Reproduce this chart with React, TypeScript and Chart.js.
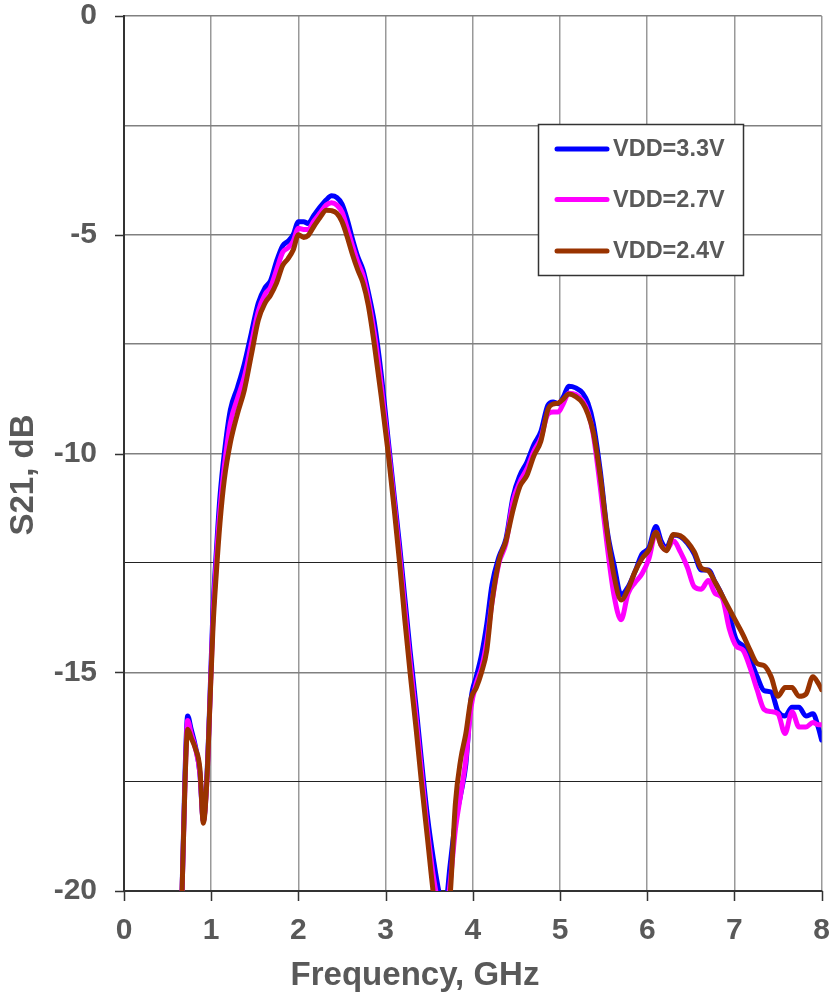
import React, { useEffect, useRef } from 'react';
import { Chart, registerables } from 'chart.js';

Chart.register(...registerables);

// Frequency grid (GHz)
const freqGHz = [
  0.66, 0.70, 0.73, 0.77, 0.82, 0.87, 0.91, 0.95, 0.98, 1.02,
  1.06, 1.10, 1.15, 1.22, 1.30, 1.38, 1.46, 1.54, 1.62, 1.68,
  1.75, 1.82, 1.88, 1.94, 2.00, 2.06, 2.11, 2.18, 2.25, 2.32,
  2.38, 2.44, 2.50, 2.56, 2.62, 2.68, 2.74, 2.80, 2.87, 2.95,
  3.03, 3.10, 3.16, 3.22, 3.28, 3.35, 3.41, 3.48, 3.55, 3.62,
  3.68, 3.74, 3.80, 3.86, 3.92, 3.98, 4.04, 4.10, 4.16, 4.22,
  4.30, 4.38, 4.46, 4.54, 4.62, 4.70, 4.78, 4.86, 4.92, 4.98,
  5.04, 5.10, 5.18, 5.26, 5.32, 5.38, 5.46, 5.54, 5.62, 5.70,
  5.78, 5.86, 5.94, 6.02, 6.10, 6.16, 6.22, 6.30, 6.38, 6.46,
  6.54, 6.62, 6.70, 6.78, 6.86, 6.94, 7.02, 7.10, 7.18, 7.26,
  7.34, 7.42, 7.50, 7.58, 7.66, 7.74, 7.82, 7.90, 7.96, 8.00,
];

// S21 (dB), VDD = 3.3 V
const s21Vdd33 = [
  -20.5, -17.3, -16.0, -16.3, -16.7, -17.3, -18.4, -17.4, -15.9, -13.6,
  -12.2, -11.0, -10.0, -9.0, -8.5, -7.95, -7.25, -6.56, -6.2, -6.05,
  -5.6, -5.25, -5.15, -5.0, -4.7, -4.7, -4.74, -4.55, -4.36, -4.2,
  -4.11, -4.15, -4.3, -4.65, -5.1, -5.5, -5.8, -6.3, -7.0, -8.2,
  -9.7, -11.0, -12.1, -13.3, -14.5, -15.8, -17.0, -18.3, -19.3, -20.1,
  -20.4, -19.4, -18.4, -17.8, -17.1, -15.6, -15.1, -14.6, -13.9, -13.0,
  -12.36, -11.95, -11.0, -10.5, -10.2, -9.8, -9.5, -8.9, -8.82, -8.86,
  -8.7, -8.46, -8.5, -8.62, -8.85, -9.3, -10.38, -11.75, -12.55, -13.23,
  -13.05, -12.7, -12.3, -12.15, -11.67, -12.0, -12.15, -11.86, -11.9, -12.05,
  -12.3, -12.66, -12.66, -12.95, -13.25, -13.7, -14.25, -14.4, -14.7, -15.1,
  -15.42, -15.45, -15.9, -16.0, -15.8, -15.8, -16.0, -15.95, -16.25, -16.55,
];

// S21 (dB), VDD = 2.7 V
const s21Vdd27 = [
  -20.5, -17.5, -16.1, -16.4, -16.75, -17.3, -18.4, -17.5, -16.0, -13.8,
  -12.4, -11.3, -10.3, -9.3, -8.75, -8.25, -7.5, -6.75, -6.35, -6.2,
  -5.8, -5.4, -5.3, -5.15, -4.85, -4.88, -4.88, -4.68, -4.5, -4.32,
  -4.27, -4.32, -4.48, -4.85, -5.25, -5.62, -5.92, -6.45, -7.25, -8.45,
  -9.85, -11.15, -12.3, -13.55, -14.75, -16.05, -17.25, -18.6, -19.7, -20.4,
  -20.6, -19.8, -18.6, -17.8, -17.0, -15.8, -15.25, -14.9, -14.3, -13.4,
  -12.5, -12.05, -11.1, -10.65, -10.35, -9.95, -9.65, -9.1, -9.05, -9.05,
  -8.85, -8.62, -8.65, -8.8, -9.05, -9.55, -10.75, -12.1, -13.25, -13.8,
  -13.2, -12.95, -12.75, -12.4, -11.8, -12.1, -12.2, -12.0, -12.25, -12.6,
  -13.05, -13.1, -12.9, -13.2, -13.3, -14.0, -14.4, -14.5, -14.9, -15.4,
  -15.85, -15.9, -15.95, -16.4, -15.9, -16.25, -16.25, -16.15, -16.2, -16.2,
];

// S21 (dB), VDD = 2.4 V
const s21Vdd24 = [
  -20.5, -17.5, -16.3, -16.5, -16.75, -17.2, -18.45, -17.5, -16.0, -14.0,
  -12.7, -11.6, -10.6, -9.75, -9.1, -8.55, -7.75, -6.95, -6.55, -6.38,
  -6.1, -5.7, -5.55, -5.35, -5.0, -5.06, -5.02, -4.8, -4.6, -4.44,
  -4.45, -4.51, -4.7, -5.05, -5.45, -5.8, -6.1, -6.6, -7.5, -8.7,
  -10.0, -11.3, -12.5, -13.8, -15.0, -16.3, -17.5, -18.8, -20.1, -21.0,
  -21.0, -20.1, -18.0, -17.0, -16.4, -15.6, -15.35, -15.0, -14.5, -13.4,
  -12.45, -12.0, -11.3, -10.75, -10.5, -10.05, -9.72, -9.0, -8.87, -8.85,
  -8.75, -8.64, -8.7, -8.85, -9.1, -9.5, -10.5, -11.8, -12.8, -13.35,
  -13.1, -12.7, -12.4, -12.2, -11.8, -12.1, -12.22, -11.85, -11.88, -12.02,
  -12.25, -12.62, -12.68, -12.95, -13.25, -13.55, -13.85, -14.15, -14.5, -14.8,
  -14.85, -15.1, -15.55, -15.35, -15.35, -15.55, -15.5, -15.1, -15.25, -15.4,
];

const seriesLabels = ['VDD=3.3V', 'VDD=2.7V', 'VDD=2.4V'];
const seriesColors = ['#0000FF', '#FF00FF', '#993300'];
const xAxisTitle = 'Frequency, GHz';
const yAxisTitle = 'S21, dB';

const FONT = '"Liberation Sans", Arial, Helvetica, sans-serif';
const TEXT = '#595959';
const AXIS = '#333333';

const overlayPlugin = {
  id: 'overlay',
  afterDraw(chart: any) {
    const ctx = chart.ctx;
    const xs = chart.scales.x;
    const ys = chart.scales.y;
    const area = chart.chartArea;
    ctx.save();

    // visible tick marks (outside the axes)
    ctx.strokeStyle = AXIS;
    ctx.lineWidth = 1.5;
    ctx.beginPath();
    xs.ticks.forEach((t: any) => {
      const px = Math.round(xs.getPixelForValue(t.value)) + 0.5;
      ctx.moveTo(px, area.bottom);
      ctx.lineTo(px, area.bottom + 10);
    });
    ys.ticks.forEach((t: any) => {
      if (t.value % 5 !== 0) return;
      const py = Math.round(ys.getPixelForValue(t.value)) + 0.5;
      ctx.moveTo(area.left - 9, py);
      ctx.lineTo(area.left, py);
    });
    ctx.stroke();

    // axis titles
    ctx.fillStyle = TEXT;
    ctx.font = `bold 33px ${FONT}`;
    ctx.textAlign = 'center';
    ctx.textBaseline = 'alphabetic';
    ctx.fillText(xAxisTitle, 415, 985);
    ctx.save();
    ctx.translate(24, 475);
    ctx.rotate(-Math.PI / 2);
    ctx.textBaseline = 'middle';
    ctx.fillText(yAxisTitle, 0, 0);
    ctx.restore();

    // legend box
    const bx = 538.5, by = 124.5, bw = 205, bh = 151;
    ctx.fillStyle = '#ffffff';
    ctx.fillRect(bx, by, bw, bh);
    ctx.strokeStyle = AXIS;
    ctx.lineWidth = 1.5;
    ctx.strokeRect(bx, by, bw, bh);
    const rows = [149, 199.5, 251];
    chart.data.datasets.forEach((ds: any, i: number) => {
      const y = rows[i];
      ctx.strokeStyle = ds.borderColor;
      ctx.lineWidth = 5;
      ctx.lineCap = 'round';
      ctx.beginPath();
      ctx.moveTo(557, y);
      ctx.lineTo(607, y);
      ctx.stroke();
      ctx.fillStyle = TEXT;
      ctx.font = `bold 23.5px ${FONT}`;
      ctx.textAlign = 'left';
      ctx.textBaseline = 'middle';
      ctx.fillText(ds.label, 613, y + 1);
    });
    ctx.restore();
  },
};

export default function App() {
  const ref = useRef<HTMLCanvasElement>(null);
  useEffect(() => {
    document.body.style.margin = '0';
    const series = [s21Vdd33, s21Vdd27, s21Vdd24];
    const chart = new Chart(ref.current as HTMLCanvasElement, {
      type: 'line',
      data: {
        datasets: series.map((s, i) => ({
          label: seriesLabels[i],
          data: freqGHz.map((f, j) => ({ x: f, y: s[j] })),
          borderColor: seriesColors[i],
          backgroundColor: seriesColors[i],
          borderWidth: 5,
          pointRadius: 0,
          tension: 0.4,
          cubicInterpolationMode: 'monotone',
          borderCapStyle: 'round',
          borderJoinStyle: 'round',
          order: 3 - i,
        })),
      },
      options: {
        responsive: false,
        animation: false,
        devicePixelRatio: 1,
        layout: { padding: 0 },
        plugins: { legend: { display: false }, tooltip: { enabled: false } },
        scales: {
          x: {
            type: 'linear',
            min: 0,
            max: 8,
            ticks: {
              stepSize: 1,
              color: TEXT,
              maxRotation: 0,
              padding: 0,
              font: { family: FONT, size: 30, weight: 'bold', lineHeight: 1.0667 },
            },
            grid: { color: '#999999', lineWidth: 1.5, tickLength: 24, tickColor: 'rgba(0,0,0,0)' },
            border: { color: AXIS, width: 2 },
            afterFit: (s: any) => { s.height = 102; },
          },
          y: {
            type: 'linear',
            min: -20,
            max: 0,
            ticks: {
              stepSize: 2.5,
              color: TEXT,
              padding: 0,
              font: { family: FONT, size: 30, weight: 'bold', lineHeight: 1.0667 },
              callback: (v: any) => (Number(v) % 5 === 0 ? String(v) : ''),
            },
            grid: {
              color: (c: any) => (c.tick && (c.tick.value === -12.5 || c.tick.value === -17.5) ? '#222222' : '#808080'),
              lineWidth: (c: any) => (c.tick && (c.tick.value === -12.5 || c.tick.value === -17.5) ? 1 : 1.5),
              tickLength: 27,
              tickColor: 'rgba(0,0,0,0)',
            },
            border: { color: AXIS, width: 2 },
            afterFit: (s: any) => { s.width = 124; },
          },
        },
      } as any,
      plugins: [overlayPlugin],
    } as any);
    return () => chart.destroy();
  }, []);
  return (
    <div style={{ width: 830, height: 993 }}>
      <canvas ref={ref} width={830} height={993} style={{ display: 'block' }} />
    </div>
  );
}
